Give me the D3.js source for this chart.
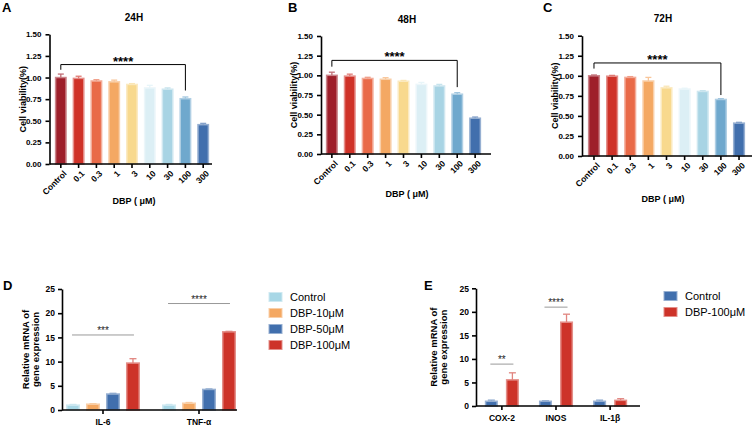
<!DOCTYPE html>
<html><head><meta charset="utf-8">
<script src="https://cdn.jsdelivr.net/npm/d3@7"></script>
<style>body{margin:0;background:#fff}svg{display:block}text{font-family:"Liberation Sans",Arial,sans-serif}</style>
</head><body>
<svg id="c" width="752" height="426"></svg>
<script>
// ---------- DATA ----------
const doses = ["Control","0.1","0.3","1","3","10","30","100","300"];
const doseColors = ["#9E1F2A","#CF3228","#E96A48","#F4A863","#F8D98E","#DCEFF5","#A8D4E4","#6FA8CD","#416FAD"];
const via24 = [1.00,0.99,0.96,0.95,0.92,0.88,0.865,0.755,0.455];
const via24Err = [0.04,0.025,0.015,0.02,0.01,0.03,0.015,0.02,0.015];
const via48 = [1.00,0.99,0.96,0.95,0.925,0.885,0.865,0.76,0.455];
const via48Err = [0.04,0.025,0.015,0.02,0.01,0.025,0.02,0.02,0.015];
const via72 = [1.00,0.995,0.98,0.935,0.85,0.835,0.805,0.705,0.41];
const via72Err = [0.01,0.01,0.01,0.045,0.02,0.01,0.01,0.01,0.01];
const viaTicks = [0,0.25,0.5,0.75,1.0,1.25,1.5];

const genesD = ["IL-6","TNF-α"];
const groupsD = ["Control","DBP-10μM","DBP-50μM","DBP-100μM"];
const colorsD = ["#A8D7E6","#F4A862","#416FAD","#CD3329"];
const valuesD = [[1.0,1.2,3.3,9.7],[1.0,1.4,4.25,16.15]];
const errorsD = [[0.15,0.1,0.15,0.9],[0.15,0.15,0.1,0.1]];

const genesE = ["COX-2","INOS","IL-1β"];
const groupsE = ["Control","DBP-100μM"];
const colorsE = ["#416FAD","#CD3329"];
const valuesE = [[1.0,5.55],[1.0,17.8],[1.0,1.2]];
const errorsE = [[0.25,1.5],[0.1,1.7],[0.25,0.35]];
const mrnaTicks = [0,5,10,15,20,25];

// ---------- DRAW ----------
const svg = d3.select("#c");
const FONT = '"Liberation Sans",Arial,sans-serif';
const tint = (c,t)=>d3.interpolateRgb(c,"#ffffff")(t);

function styleAxis(g){
  g.selectAll("path,line").attr("stroke","#000").attr("stroke-width",1.6);
  g.selectAll("text").attr("font-family",FONT).attr("font-weight","bold").attr("fill","#000");
}

function viability(o){
  const g = svg.append("g");
  const x = d3.scaleBand().domain(doses).range([o.bx0,o.bx1]).paddingInner(0.33).paddingOuter(0.16);
  const y = d3.scaleLinear().domain([0,1.5]).range([o.y0,o.y1]);
  g.selectAll("rect.bar").data(o.vals).join("rect")
    .attr("x",(d,i)=>x(doses[i])+0.75).attr("width",x.bandwidth()-1.5)
    .attr("y",d=>y(d)).attr("height",d=>y(0)-y(d))
    .attr("fill",(d,i)=>doseColors[i]).attr("stroke",(d,i)=>tint(doseColors[i],0.45)).attr("stroke-width",1.5);
  o.vals.forEach((v,i)=>{
    const cx = x(doses[i])+x.bandwidth()/2, c = tint(doseColors[i],0.35);
    g.append("line").attr("x1",cx).attr("x2",cx).attr("y1",y(v)).attr("y2",y(v+o.err[i])).attr("stroke",c).attr("stroke-width",1.3);
    g.append("line").attr("x1",cx-3).attr("x2",cx+3).attr("y1",y(v+o.err[i])).attr("y2",y(v+o.err[i])).attr("stroke",c).attr("stroke-width",1.3);
  });
  const ya = g.append("g").attr("transform",`translate(${o.ax},0)`)
    .call(d3.axisLeft(y).tickValues(viaTicks).tickFormat(d3.format(".2f")).tickSize(4).tickSizeOuter(0));
  ya.selectAll("text").attr("font-size",8).attr("dx",-1);
  styleAxis(ya);
  const xa = g.append("g").attr("transform",`translate(0,${o.y0})`).call(d3.axisBottom(x).tickSize(4).tickSizeOuter(0));
  xa.select("path.domain").attr("d",`M${o.ax},0H${o.axEnd}`);
  xa.selectAll("text").attr("font-size",8.5).attr("text-anchor","end")
    .attr("transform","rotate(-45)").attr("dx","-0.3em").attr("dy","0.55em");
  styleAxis(xa);
  const c0 = x(doses[0])+x.bandwidth()/2, c7 = x(doses[7])+x.bandwidth()/2;
  g.append("path").attr("d",`M${c0},${y(o.brL)}V${y(o.br)}H${c7}V${y(o.brR)}`)
    .attr("fill","none").attr("stroke","#000").attr("stroke-width",1);
  g.append("text").attr("x",(c0+c7)/2).attr("y",y(o.br)+1).attr("text-anchor","middle")
    .attr("font-size",13).attr("font-weight","bold").text("****");
  g.append("text").attr("x",o.titleX).attr("y",o.titleY).attr("text-anchor","middle")
    .attr("font-size",10).attr("font-weight","bold").text(o.title);
  g.append("text").attr("x",o.letterX).attr("y",o.letterY).attr("font-size",13).attr("font-weight","bold").text(o.letter);
  g.append("text").attr("x",o.titleX).attr("y",o.xlabY).attr("text-anchor","middle")
    .attr("font-size",9).attr("font-weight","bold").text("DBP ( μM)");
  g.append("text").attr("transform",`translate(${o.ax-24},${(o.y0+o.y1)/2}) rotate(-90)`).attr("text-anchor","middle")
    .attr("font-size",9).attr("font-weight","bold").text("Cell viability(%)");
}

viability({vals:via24,err:via24Err,ax:49.5,axEnd:212,bx0:52,bx1:212,y0:164,y1:34.3,br:1.15,brL:1.09,brR:0.85,
  title:"24H",titleX:134,titleY:21,letter:"A",letterX:2,letterY:12,xlabY:204});
viability({vals:via48,err:via48Err,ax:321,axEnd:491,bx0:323,bx1:484,y0:154,y1:36,br:1.19,brL:1.11,brR:0.85,
  title:"48H",titleX:407,titleY:23,letter:"B",letterX:288,letterY:12,xlabY:197});
viability({vals:via72,err:via72Err,ax:582,axEnd:752,bx0:585,bx1:748,y0:156,y1:35.7,br:1.16,brL:1.09,brR:0.76,
  title:"72H",titleX:663,titleY:22,letter:"C",letterX:543,letterY:12,xlabY:202});

function mrna(o){
  const g = svg.append("g");
  const x0 = d3.scaleBand().domain(o.genes).range(o.brange).paddingInner(o.pin).paddingOuter(o.pout);
  const x1 = d3.scaleBand().domain(o.groups).range([0,x0.bandwidth()]).paddingInner(o.gin);
  const y = d3.scaleLinear().domain([0,25]).range([o.y0,o.y1]);
  o.genes.forEach((gene,gi)=>{
    o.groups.forEach((grp,k)=>{
      const v = o.vals[gi][k], e = o.errs[gi][k], col = o.colors[k];
      const bx = x0(gene)+x1(grp), cx = bx+x1.bandwidth()/2;
      g.append("rect").attr("x",bx+0.75).attr("width",x1.bandwidth()-1.5).attr("y",y(v)).attr("height",y(0)-y(v))
        .attr("fill",col).attr("stroke",tint(col,0.45)).attr("stroke-width",1.5);
      const ec = tint(col,0.4);
      g.append("line").attr("x1",cx).attr("x2",cx).attr("y1",y(v)).attr("y2",y(v+e)).attr("stroke",ec).attr("stroke-width",1.3);
      g.append("line").attr("x1",cx-3.5).attr("x2",cx+3.5).attr("y1",y(v+e)).attr("y2",y(v+e)).attr("stroke",ec).attr("stroke-width",1.3);
    });
  });
  const ya = g.append("g").attr("transform",`translate(${o.ax},0)`)
    .call(d3.axisLeft(y).tickValues(mrnaTicks).tickSize(4).tickSizeOuter(0));
  ya.selectAll("text").attr("font-size",8.5);
  styleAxis(ya);
  const xa = g.append("g").attr("transform",`translate(0,${o.y0})`).call(d3.axisBottom(x0).tickSize(4).tickSizeOuter(0));
  xa.select("path.domain").attr("d",`M${o.ax},0H${o.axEnd}`);
  xa.selectAll("text").attr("font-size",8.5).attr("dy","0.9em");
  styleAxis(xa);
  o.sig.forEach(s=>{
    const gene = o.genes[s.gi], hb = x1.bandwidth()/2;
    const xa0 = x0(gene)+x1(o.groups[0])+hb, xa1 = x0(gene)+x1(o.groups[o.groups.length-1])+hb;
    g.append("line").attr("x1",xa0-1).attr("x2",xa1+1).attr("y1",y(s.v)).attr("y2",y(s.v)).attr("stroke","#999").attr("stroke-width",1);
    g.append("text").attr("x",(xa0+xa1)/2).attr("y",y(s.v)-1).attr("text-anchor","middle")
      .attr("font-size",10).attr("fill","#222").text(s.t);
  });
  o.groups.forEach((grp,k)=>{
    const ly = o.legY + k*16;
    g.append("rect").attr("x",o.legX).attr("y",ly-4.5).attr("width",13).attr("height",9).attr("fill",o.colors[k])
      .attr("stroke",tint(o.colors[k],0.45)).attr("stroke-width",1);
    g.append("text").attr("x",o.legX+21).attr("y",ly+4).attr("font-size",11).text(grp);
  });
  g.append("text").attr("x",o.letterX).attr("y",o.letterY).attr("font-size",13).attr("font-weight","bold").text(o.letter);
  const lab = g.append("text").attr("transform",`translate(${o.ax-o.labOff},${(o.y0+o.y1)/2}) rotate(-90)`).attr("text-anchor","middle")
    .attr("font-size",9.5).attr("font-weight","bold");
  lab.append("tspan").attr("x",0).attr("dy",0).text("Relative mRNA of");
  lab.append("tspan").attr("x",0).attr("dy","1.1em").text("gene expression");
}

mrna({genes:genesD,groups:groupsD,colors:colorsD,vals:valuesD,errs:errorsD,ax:62,axEnd:237,brange:[62,240],y0:410,y1:289,
  pin:0.23,pout:0.042,gin:0.3,sig:[{gi:0,v:15.5,t:"***"},{gi:1,v:22,t:"****"}],
  legX:269,legY:297,letter:"D",letterX:3,letterY:290,labOff:33});
mrna({genes:genesE,groups:groupsE,colors:colorsE,vals:valuesE,errs:errorsE,ax:476,axEnd:640,brange:[474,638],y0:406,y1:288.3,
  pin:0.37,pout:0.2,gin:0.38,sig:[{gi:0,v:8.9,t:"**"},{gi:1,v:21,t:"****"}],
  legX:664,legY:296,letter:"E",letterX:424,letterY:290,labOff:39});
</script>
</body></html>
